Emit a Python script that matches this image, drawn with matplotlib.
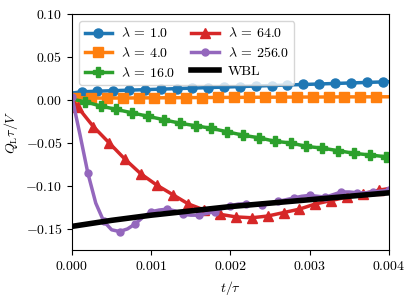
import numpy as np
import matplotlib
matplotlib.use('Agg')
import matplotlib.pyplot as plt

plt.rcParams['font.family'] = 'serif'
plt.rcParams['font.serif'] = ['cmr10']
plt.rcParams['mathtext.fontset'] = 'cm'
plt.rcParams['axes.formatter.use_mathtext'] = True
plt.rcParams['font.size'] = 10

# --- data ---
# lambda = 1.0 (first / last points are the line ends, no marker)
t_1 = [0.0, 0.00012, 0.00032, 0.00052, 0.00072, 0.00092, 0.00112, 0.00132, 0.00152,
       0.00172, 0.00192, 0.00212, 0.00232, 0.00252, 0.00272, 0.00292, 0.00312,
       0.00332, 0.00352, 0.00372, 0.00392, 0.004]
q_1 = [0.0080, 0.0095, 0.0102, 0.0108, 0.0114, 0.0120, 0.0126, 0.0132, 0.0138,
       0.0144, 0.0150, 0.0156, 0.0162, 0.0168, 0.0174, 0.0180, 0.0186,
       0.0192, 0.0198, 0.0204, 0.0210, 0.0213]

# lambda = 4.0
t_4 = [0.0, 0.00004, 0.00024, 0.00044, 0.00064, 0.00084, 0.00104, 0.00124, 0.00144,
       0.00164, 0.00184, 0.00204, 0.00224, 0.00244, 0.00264, 0.00284, 0.00304,
       0.00324, 0.00344, 0.00364, 0.00384, 0.004]
q_4 = [0.0050, 0.0028, 0.0022, 0.0022, 0.0023, 0.0024, 0.0025, 0.0026, 0.0027,
       0.0028, 0.0029, 0.0030, 0.0031, 0.0032, 0.0033, 0.0034, 0.0034,
       0.0035, 0.0036, 0.0036, 0.0037, 0.0037]

# lambda = 16.0
t_16 = [0.0, 0.00016, 0.00036, 0.00056, 0.00076, 0.00096, 0.00116, 0.00136, 0.00156,
        0.00176, 0.00196, 0.00216, 0.00236, 0.00256, 0.00276, 0.00296, 0.00316,
        0.00336, 0.00356, 0.00376, 0.00396, 0.004]
q_16 = [0.001, -0.002, -0.007, -0.011, -0.015, -0.019, -0.023, -0.027, -0.030,
        -0.033, -0.037, -0.041, -0.044, -0.048, -0.050, -0.054, -0.056,
        -0.059, -0.062, -0.064, -0.066, -0.067]

# lambda = 64.0
t_64 = [0.0, 0.00007, 0.00027, 0.00047, 0.00067, 0.00087, 0.00107, 0.00127, 0.00147,
        0.00167, 0.00187, 0.00207, 0.00227, 0.00247, 0.00267, 0.00287, 0.00307,
        0.00327, 0.00347, 0.00367, 0.00387, 0.004]
q_64 = [0.000, -0.008, -0.031, -0.050, -0.069, -0.086, -0.099, -0.110, -0.121,
        -0.128, -0.133, -0.136, -0.137, -0.135, -0.131, -0.127, -0.121,
        -0.117, -0.113, -0.109, -0.105, -0.103]

# lambda = 256.0 (markers on every second point)
t_256 = [0.0000, 0.0001, 0.0002, 0.0003, 0.0004, 0.0005, 0.0006, 0.0007, 0.0008, 0.0009,
         0.0010, 0.0011, 0.0012, 0.0013, 0.0014, 0.0015, 0.0016, 0.0017, 0.0018, 0.0019,
         0.0020, 0.0021, 0.0022, 0.0023, 0.0024, 0.0025, 0.0026, 0.0027, 0.0028, 0.0029,
         0.0030, 0.0031, 0.0032, 0.0033, 0.0034, 0.0035, 0.0036, 0.0037, 0.0038, 0.0039,
         0.0040]
q_256 = [0.003, -0.040, -0.085, -0.120, -0.141, -0.151, -0.153, -0.150, -0.144, -0.136,
         -0.130, -0.128, -0.127, -0.129, -0.133, -0.134, -0.134, -0.132, -0.130, -0.126,
         -0.123, -0.121, -0.121, -0.122, -0.122, -0.120, -0.118, -0.116, -0.114, -0.112,
         -0.111, -0.112, -0.113, -0.110, -0.107, -0.107, -0.108, -0.108, -0.107, -0.106,
         -0.105]

# WBL
t_wbl = [0.0, 0.0005, 0.001, 0.0015, 0.002, 0.0025, 0.003, 0.0035, 0.004]
q_wbl = [-0.147, -0.140, -0.134, -0.129, -0.124, -0.120, -0.116, -0.112, -0.108]

xticks = [0.000, 0.001, 0.002, 0.003, 0.004]
yticks = [-0.15, -0.10, -0.05, 0.00, 0.05, 0.10]

fig = plt.figure(figsize=(4.15, 3.01), dpi=100)
ax = fig.add_axes([0.1735, 0.168, 0.7635, 0.7855])

mid = slice(1, -1)
ax.plot(t_1, q_1, color='tab:blue', marker='o', ms=6.5, lw=2.5, markevery=mid, label=r'$\lambda$ = 1.0')
ax.plot(t_4, q_4, color='tab:orange', marker='s', ms=6.5, lw=2.5, markevery=mid, label=r'$\lambda$ = 4.0')
ax.plot(t_16, q_16, color='tab:green', marker='P', ms=6.5, lw=2.5, markevery=mid, label=r'$\lambda$ = 16.0')
ax.plot(t_64, q_64, color='tab:red', marker='^', ms=6.5, lw=2.5, markevery=mid, label=r'$\lambda$ = 64.0')
ax.plot(t_256, q_256, color='tab:purple', marker='o', ms=5, lw=2.5, markevery=2, label=r'$\lambda$ = 256.0')
ax.plot(t_wbl, q_wbl, color='black', lw=4, label='WBL')

ax.set_xlim(0, 0.004)
ax.set_ylim(-0.175, 0.10)
ax.set_xticks(xticks)
ax.set_yticks(yticks)
ax.xaxis.set_major_formatter(matplotlib.ticker.FormatStrFormatter(r'$%.3f$'))
ax.yaxis.set_major_formatter(matplotlib.ticker.FormatStrFormatter(r'$%.2f$'))

ax.set_xlabel(r'$t/\tau$')
ax.set_ylabel(r'$Q_{\rm L}\tau/V$')
ax.legend(loc='upper left', ncol=2, fontsize=10, labelspacing=0.4, columnspacing=1.2, handletextpad=0.6)

fig.savefig('out.png', dpi=100)
